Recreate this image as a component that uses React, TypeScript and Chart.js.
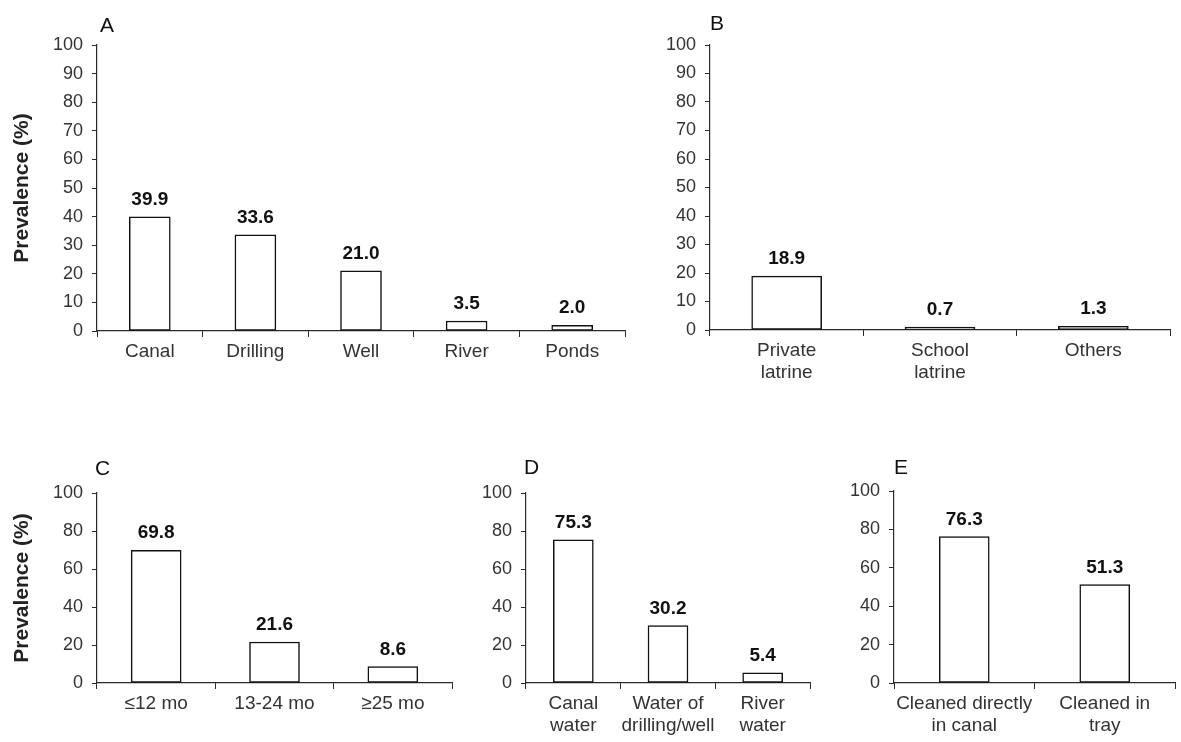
import React, { useEffect, useRef } from "react";
import { Chart, registerables } from "chart.js";

Chart.register(...registerables);

// ---------- data ----------
const sourceCategories: (string | string[])[] = ["Canal", "Drilling", "Well", "River", "Ponds"];
const sourceValues: number[] = [39.9, 33.6, 21.0, 3.5, 2.0];

const latrineCategories: (string | string[])[] = [["Private", "latrine"], ["School", "latrine"], "Others"];
const latrineValues: number[] = [18.9, 0.7, 1.3];

const ageCategories: (string | string[])[] = ["≤12 mo", "13-24 mo", "≥25 mo"];
const ageValues: number[] = [69.8, 21.6, 8.6];

const waterCategories: (string | string[])[] = [["Canal", "water"], ["Water of", "drilling/well"], ["River", "water"]];
const waterValues: number[] = [75.3, 30.2, 5.4];

const cleaningCategories: (string | string[])[] = [["Cleaned directly", "in canal"], ["Cleaned in", "tray"]];
const cleaningValues: number[] = [76.3, 51.3];

const yTitleText = "Prevalence (%)";

// ---------- layout ----------
type Panel = {
  letter: string;
  rect: { x: number; y: number; w: number; h: number };
  area: { l: number; t: number; r: number; b: number };
  letterPos: { x: number; y: number };
  categories: (string | string[])[];
  values: number[];
  barPx: number;
  labelEvery: number;
  yTitle: boolean;
};

const panels: Panel[] = [
  {
    letter: "A",
    rect: { x: 0, y: 0, w: 640, h: 430 },
    area: { l: 97, t: 45, r: 625, b: 331 },
    letterPos: { x: 100, y: 14 },
    categories: sourceCategories,
    values: sourceValues,
    barPx: 41,
    labelEvery: 10,
    yTitle: true,
  },
  {
    letter: "B",
    rect: { x: 640, y: 0, w: 541, h: 430 },
    area: { l: 710, t: 45, r: 1170, b: 330 },
    letterPos: { x: 710, y: 12 },
    categories: latrineCategories,
    values: latrineValues,
    barPx: 70,
    labelEvery: 10,
    yTitle: false,
  },
  {
    letter: "C",
    rect: { x: 0, y: 430, w: 470, h: 312 },
    area: { l: 97, t: 493, r: 452, b: 683 },
    letterPos: { x: 95, y: 457 },
    categories: ageCategories,
    values: ageValues,
    barPx: 50,
    labelEvery: 20,
    yTitle: true,
  },
  {
    letter: "D",
    rect: { x: 470, y: 430, w: 350, h: 312 },
    area: { l: 526, t: 493, r: 810, b: 683 },
    letterPos: { x: 524, y: 456 },
    categories: waterCategories,
    values: waterValues,
    barPx: 40,
    labelEvery: 20,
    yTitle: false,
  },
  {
    letter: "E",
    rect: { x: 820, y: 430, w: 361, h: 312 },
    area: { l: 894, t: 491, r: 1175, b: 683 },
    letterPos: { x: 894, y: 456 },
    categories: cleaningCategories,
    values: cleaningValues,
    barPx: 50,
    labelEvery: 20,
    yTitle: false,
  },
];

const FONT = "'Liberation Sans', Arial, Helvetica, sans-serif";
const AXIS_COLOR = "#2a2a2a";
const TEXT_COLOR = "#333333";

const valueLabelPlugin = {
  id: "valueLabels",
  afterDatasetsDraw(chart: any) {
    const ctx = chart.ctx;
    const meta = chart.getDatasetMeta(0);
    const data = chart.data.datasets[0].data as number[];
    ctx.save();
    ctx.font = `bold 19px ${FONT}`;
    ctx.fillStyle = "#111111";
    ctx.textAlign = "center";
    ctx.textBaseline = "alphabetic";
    meta.data.forEach((el: any, i: number) => {
      ctx.fillText(data[i].toFixed(1), el.x, el.y - 12);
    });
    ctx.restore();
  },
};

function PanelChart({ p }: { p: Panel }) {
  const ref = useRef<HTMLCanvasElement | null>(null);
  useEffect(() => {
    if (!ref.current) return;
    const leftW = p.area.l - p.rect.x;
    const bottomH = p.rect.y + p.rect.h - p.area.b;
    const chart = new Chart(ref.current, {
      type: "bar",
      data: {
        labels: p.categories as any,
        datasets: [
          {
            data: p.values,
            backgroundColor: "#ffffff",
            borderColor: "#111111",
            borderWidth: 1.5,
            borderSkipped: false,
            barThickness: p.barPx,
            minBarLength: 3,
          },
        ],
      },
      options: {
        animation: false,
        responsive: false,
        maintainAspectRatio: false,
        layout: {
          padding: {
            left: 0,
            top: p.area.t - p.rect.y,
            right: p.rect.x + p.rect.w - p.area.r,
            bottom: 0,
          },
        },
        plugins: {
          legend: { display: false },
          tooltip: { enabled: false },
          title: { display: false },
        },
        scales: {
          x: {
            type: "category",
            offset: true,
            grid: {
              offset: true,
              drawOnChartArea: false,
              drawTicks: true,
              tickLength: 6,
              color: AXIS_COLOR,
              lineWidth: 1,
            },
            border: { display: true, color: AXIS_COLOR, width: 1.2 },
            ticks: {
              color: TEXT_COLOR,
              font: { family: FONT, size: 19 },
              padding: 3,
              maxRotation: 0,
              autoSkip: false,
            },
            afterFit: (scale: any) => {
              scale.height = bottomH;
            },
          },
          y: {
            min: 0,
            max: 100,
            grid: {
              drawOnChartArea: false,
              drawTicks: true,
              tickLength: 5,
              color: AXIS_COLOR,
              lineWidth: 1,
            },
            border: { display: true, color: AXIS_COLOR, width: 1.2 },
            ticks: {
              stepSize: 10,
              color: TEXT_COLOR,
              font: { family: FONT, size: 18 },
              padding: 9,
              callback: (v: any) => (Number(v) % p.labelEvery === 0 ? String(v) : ""),
            },
            title: {
              display: p.yTitle,
              text: yTitleText,
              color: "#222222",
              font: { family: FONT, size: 21, weight: "bold" },
              padding: { top: 10, bottom: 0 },
            },
            afterFit: (scale: any) => {
              scale.width = leftW;
            },
          },
        },
      },
      plugins: [valueLabelPlugin],
    } as any);
    return () => chart.destroy();
  }, [p]);

  return (
    <>
      <canvas
        ref={ref}
        width={p.rect.w}
        height={p.rect.h}
        style={{
          position: "absolute",
          left: p.rect.x,
          top: p.rect.y,
          width: p.rect.w,
          height: p.rect.h,
        }}
      />
      <div
        style={{
          position: "absolute",
          left: p.letterPos.x,
          top: p.letterPos.y,
          fontFamily: FONT,
          fontSize: 21,
          lineHeight: 1,
          color: "#111",
        }}
      >
        {p.letter}
      </div>
    </>
  );
}

export default function App() {
  return (
    <div
      style={{
        position: "absolute",
        left: 0,
        top: 0,
        width: 1181,
        height: 742,
        background: "#ffffff",
        overflow: "hidden",
      }}
    >
      {panels.map((p) => (
        <PanelChart key={p.letter} p={p} />
      ))}
    </div>
  );
}
